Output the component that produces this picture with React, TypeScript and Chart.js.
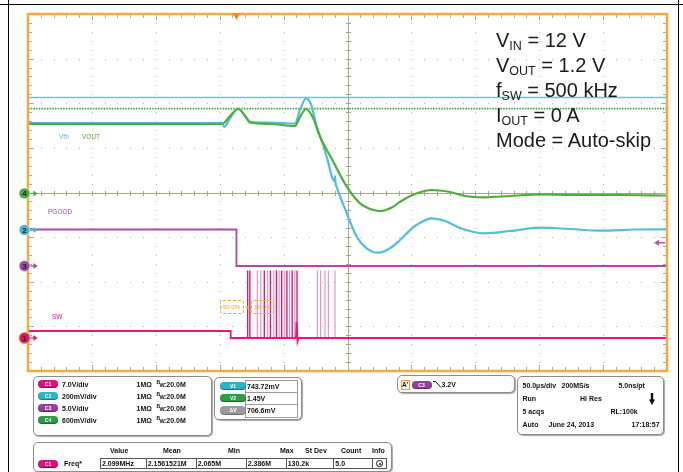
import React, { useEffect, useRef } from "react";
import { Chart, registerables } from "chart.js";

Chart.register(...registerables);

// Horizontal: time in µs from the left screen edge (50 µs/div, 10 div).
// Vertical: screen divisions (8 div, centre line = 0).
const vfbTime = [0, 151.8, 153.4, 158.1, 164.3, 169.8, 173.7, 189.4, 208.9, 212.8, 217.5, 221.4, 225.9, 230.0, 233.7, 239.8, 240.2, 240.6, 241.5, 249.4, 257.2, 265.0, 274.1, 283.3, 291.1, 302.8, 315.9, 326.3, 338.0, 356.8, 377.2, 401.4, 424.1, 449.1, 475.0, 500];
const vfbLevel = [1.557, 1.557, 1.468, 1.67, 1.882, 1.714, 1.58, 1.569, 1.546, 1.849, 2.106, 1.983, 1.475, 1.154, 0.802, 0.26, 0.36, 0.22, 0.13, -0.466, -0.99, -1.25, -1.349, -1.25, -1.064, -0.751, -0.578, -0.639, -0.796, -0.914, -0.863, -0.789, -0.818, -0.856, -0.829, -0.825];

const voutTime = [0, 151.8, 158.1, 164.3, 170.6, 173.7, 189.4, 208.9, 212.8, 217.5, 223.2, 228.5, 238.2, 249.4, 259.8, 270.2, 275.4, 285.8, 291.1, 302.8, 315.9, 330.2, 341.9, 356.8, 377.2, 401.4, 431.9, 463.2, 500];
const voutLevel = [1.535, 1.535, 1.714, 1.871, 1.692, 1.569, 1.535, 1.49, 1.692, 1.871, 1.663, 1.25, 0.728, 0.13, -0.242, -0.392, -0.415, -0.318, -0.206, -0.034, 0.056, 0.011, -0.078, -0.108, -0.078, -0.04, -0.056, -0.056, -0.067];

const pgoodTime = [0, 163.1, 163.1, 500];
const pgoodLevel = [-0.829, -0.829, -1.647, -1.647];

const swTime = [0, 158.6, 158.6, 209.7, 210.1, 210.9, 211.7, 500];
const swLevel = [-3.104, -3.104, -3.261, -3.261, -2.9, -3.34, -3.261, -3.261];
const swPulseDark = [171.9, 173.6, 184.9, 189.7, 194.4, 198.5, 202.6, 206.7, 210.5];
const swPulseLight = [179.4, 182.2, 187.6, 192.4, 196.5, 200.5, 204.7, 208.8, 226.4, 229.0, 232.4, 235.0, 240.2];
const swPulseHigh = -1.748;
const swPulseLow = -3.261;

const cursorV1 = 2.129;
const cursorV2 = 1.878;
const triggerTime = 163.1;
const triggerLevel = -1.125;

const markerChannels = ["4", "2", "3", "1"];
const markerLevels = [-0.02, -0.84, -1.647, -3.261];
const markerColors = ["#49a847", "#4cb6cf", "#9b4c9d", "#e2176c"];

const channelLabels = ["C1", "C2", "C3", "C4"];
const channelScales = ["7.0V/div", "200mV/div", "5.0V/div", "600mV/div"];
const channelColors = ["#d3177a", "#2db2c6", "#9a3d9e", "#2c9c45"];
const cursorLabels = ["V1", "V2", "ΔV"];
const cursorValues = ["743.72mV", "1.45V", "706.6mV"];
const cursorColors = ["#2bb4c6", "#2e9e46", "#9c9c9c"];
const measHeaders = ["Value", "Mean", "Min", "Max", "St Dev", "Count", "Info"];
const measHeaderX = [110, 163, 228, 280, 305, 341, 372];
const measValues = ["2.099MHz", "2.1561521M", "2.065M", "2.386M", "130.2k", "5.0"];
const measCellX = [100, 145.7, 195.7, 245.7, 285.7, 333.3, 372.3, 386];

const annotationLines: [string, string, string][] = [
  ["V", "IN", " = 12 V"],
  ["V", "OUT", " = 1.2 V"],
  ["f", "SW", " = 500 kHz"],
  ["I", "OUT", " = 0 A"],
  ["Mode = Auto-skip", "", ""],
];

const FF = '"Liberation Sans", Arial, Helvetica, sans-serif';

const pts = (t: number[], v: number[]) => t.map((x, i) => ({ x, y: v[i] }));
const pulses = (times: number[]) =>
  times.flatMap((t) => [
    { x: t, y: swPulseLow },
    { x: t, y: swPulseHigh },
    { x: t, y: null as any },
  ]);

const scopePlugin = {
  id: "scopeScreen",
  beforeDatasetsDraw(chart: any) {
    const { ctx, chartArea: a } = chart;
    const W = a.right - a.left;
    const H = a.bottom - a.top;
    const dx = W / 10;
    const dy = H / 8;
    const cx = a.left + W / 2;
    const cy = a.top + H / 2;
    ctx.save();
    ctx.fillStyle = "#b8b8b8";
    for (let i = 1; i < 10; i++) {
      if (i === 5) continue;
      const x = Math.round(a.left + i * dx);
      for (let k = 1; k < 40; k++) ctx.fillRect(x, Math.round(a.top + (k * dy) / 5), 1, 1);
    }
    for (let j = 1; j < 8; j++) {
      if (j === 4) continue;
      const y = Math.round(a.top + j * dy);
      for (let k = 1; k < 50; k++) ctx.fillRect(Math.round(a.left + (k * dx) / 5), y, 1, 1);
    }
    ctx.strokeStyle = "#a9a38f";
    ctx.lineWidth = 1;
    const xc = Math.round(cx) + 0.5;
    const yc = Math.round(cy) + 0.5;
    ctx.beginPath();
    ctx.moveTo(a.left, yc);
    ctx.lineTo(a.right, yc);
    ctx.moveTo(xc, a.top);
    ctx.lineTo(xc, a.bottom);
    for (let k = 1; k < 50; k++) {
      const x = Math.round(a.left + (k * dx) / 5) + 0.5;
      ctx.moveTo(x, yc - 2.5);
      ctx.lineTo(x, yc + 2.5);
    }
    for (let k = 1; k < 40; k++) {
      const y = Math.round(a.top + (k * dy) / 5) + 0.5;
      ctx.moveTo(xc - 2.5, y);
      ctx.lineTo(xc + 2.5, y);
    }
    ctx.stroke();
    ctx.strokeStyle = "#ababab";
    ctx.beginPath();
    for (let k = 1; k < 50; k++) {
      const x = Math.round(a.left + (k * dx) / 5) + 0.5;
      const len = k % 5 === 0 ? 6 : 4;
      ctx.moveTo(x, a.top);
      ctx.lineTo(x, a.top + len);
      ctx.moveTo(x, a.bottom);
      ctx.lineTo(x, a.bottom - len);
    }
    for (let k = 1; k < 40; k++) {
      const y = Math.round(a.top + (k * dy) / 5) + 0.5;
      const len = k % 5 === 0 ? 6 : 4;
      ctx.moveTo(a.left, y);
      ctx.lineTo(a.left + len, y);
      ctx.moveTo(a.right, y);
      ctx.lineTo(a.right - len, y);
    }
    ctx.stroke();
    ctx.restore();
  },
  afterDatasetsDraw(chart: any) {
    const { ctx, chartArea: a, scales } = chart;
    const xs = scales.x;
    const ys = scales.y;
    ctx.save();
    ctx.strokeStyle = "#f3ab3e";
    ctx.lineWidth = 2.5;
    ctx.strokeRect(a.left, a.top, a.right - a.left, a.bottom - a.top);
    const tx = xs.getPixelForValue(triggerTime);
    ctx.fillStyle = "#f08a22";
    ctx.beginPath();
    ctx.moveTo(tx - 4, a.top - 1);
    ctx.lineTo(tx + 4, a.top - 1);
    ctx.lineTo(tx, a.top + 6);
    ctx.closePath();
    ctx.fill();
    const ty = ys.getPixelForValue(triggerLevel);
    ctx.strokeStyle = "#c650a8";
    ctx.fillStyle = "#c650a8";
    ctx.lineWidth = 1.5;
    ctx.beginPath();
    ctx.moveTo(a.right - 2, ty);
    ctx.lineTo(a.right - 9, ty);
    ctx.stroke();
    ctx.beginPath();
    ctx.moveTo(a.right - 13, ty);
    ctx.lineTo(a.right - 8, ty - 3);
    ctx.lineTo(a.right - 8, ty + 3);
    ctx.closePath();
    ctx.fill();
    markerChannels.forEach((n, i) => {
      const y = ys.getPixelForValue(markerLevels[i]);
      const col = markerColors[i];
      const mx = a.left - 3.5;
      ctx.strokeStyle = col;
      ctx.fillStyle = col;
      ctx.lineWidth = 1.2;
      ctx.beginPath();
      ctx.moveTo(mx + 5, y);
      ctx.lineTo(mx + 11, y);
      ctx.stroke();
      ctx.beginPath();
      ctx.moveTo(mx + 13, y);
      ctx.lineTo(mx + 9, y - 3);
      ctx.lineTo(mx + 9, y + 3);
      ctx.closePath();
      ctx.fill();
      ctx.beginPath();
      ctx.arc(mx, y, 5.5, 0, Math.PI * 2);
      ctx.fill();
      ctx.strokeStyle = i === 3 ? "#f4a040" : "rgba(255,255,255,0.6)";
      ctx.lineWidth = 1;
      ctx.stroke();
      ctx.fillStyle = "#1d1d1d";
      ctx.font = 'bold 8px "Liberation Sans", Arial, sans-serif';
      ctx.textAlign = "center";
      ctx.textBaseline = "middle";
      ctx.fillText(n, mx, y + 0.5);
    });
    ctx.restore();
  },
};

function T(props: { x: number; y: number; s?: number; c?: string; w?: number; center?: boolean; children: any }) {
  const s = props.s ?? 7;
  const L = Math.round(s * 1.3);
  return (
    <span
      style={{
        position: "absolute",
        left: props.x,
        top: props.y - L / 2,
        fontSize: s,
        lineHeight: L + "px",
        color: props.c ?? "#111",
        fontWeight: props.w ?? 700,
        fontFamily: FF,
        whiteSpace: "nowrap",
        transform: props.center ? "translateX(-50%)" : undefined,
      }}
    >
      {props.children}
    </span>
  );
}

function Pill(props: { x: number; y: number; w?: number; h?: number; color: string; label: string }) {
  const w = props.w ?? 20;
  const h = props.h ?? 8;
  return (
    <div
      style={{
        position: "absolute",
        left: props.x,
        top: props.y - h / 2,
        width: w,
        height: h,
        borderRadius: h / 2,
        background: props.color,
        boxShadow: "inset 0 -1px 1px rgba(0,0,0,0.35)",
        color: "#fff",
        fontSize: 5,
        lineHeight: h + "px",
        textAlign: "center",
        fontWeight: 700,
        fontFamily: FF,
      }}
    >
      {props.label}
    </div>
  );
}

function Box(props: { x: number; y: number; w: number; h: number }) {
  return (
    <div
      style={{
        position: "absolute",
        left: props.x,
        top: props.y,
        width: props.w,
        height: props.h,
        boxSizing: "border-box",
        border: "1px solid #8c8c8c",
        borderRadius: 5,
        boxShadow: "1px 1px 1px rgba(0,0,0,0.35)",
        background: "#fff",
      }}
    />
  );
}

function Cell(props: { x: number; y: number; w: number; h: number; color?: string }) {
  return (
    <div
      style={{
        position: "absolute",
        left: props.x,
        top: props.y,
        width: props.w,
        height: props.h,
        boxSizing: "border-box",
        border: `1px solid ${props.color ?? "#555"}`,
        background: "#fff",
      }}
    />
  );
}

export default function App() {
  const ref = useRef<HTMLCanvasElement>(null);

  useEffect(() => {
    const canvas = ref.current!;
    const chart = new Chart(canvas, {
      type: "line",
      data: {
        datasets: [
          { label: "VOUT", data: pts(voutTime, voutLevel), borderColor: "#4caf3a", borderWidth: 2.2, cubicInterpolationMode: "monotone" },
          { label: "Vfb", data: pts(vfbTime, vfbLevel), borderColor: "#52bfd8", borderWidth: 2.2, cubicInterpolationMode: "monotone" },
          { label: "Cursor V1", data: pts([0, 500], [cursorV1, cursorV1]), borderColor: "#62c6df", borderWidth: 1.3 },
          { label: "Cursor V2", data: pts([0, 500], [cursorV2, cursorV2]), borderColor: "#3aa53a", borderWidth: 1.8, borderDash: [1.5, 1.2] },
          { label: "PGOOD", data: pts(pgoodTime, pgoodLevel), borderColor: "#ad4aa3", borderWidth: 1.8 },
          { label: "SW", data: pts(swTime, swLevel), borderColor: "#e4187b", borderWidth: 1.8 },
          { label: "SW pulses", data: pulses(swPulseDark), borderColor: "#cc176f", borderWidth: 1.3, spanGaps: false },
          { label: "SW pulses light", data: pulses(swPulseLight), borderColor: "#e67fb3", borderWidth: 1, spanGaps: false },
        ] as any,
      },
      options: {
        responsive: false,
        animation: false,
        events: [],
        layout: { padding: { left: 28, right: 16, top: 14, bottom: 101 } },
        scales: {
          x: { type: "linear", min: 0, max: 500, display: false },
          y: { type: "linear", min: -4, max: 4, display: false },
        },
        elements: { point: { radius: 0 }, line: { tension: 0 } },
        plugins: { legend: { display: false }, tooltip: { enabled: false } },
      } as any,
      plugins: [scopePlugin],
    });
    return () => chart.destroy();
  }, []);

  const rowY = [384, 396, 408, 420];

  return (
    <div
      style={{
        position: "absolute",
        left: 0,
        top: 0,
        width: 683,
        height: 472,
        overflow: "hidden",
        background: "#fff",
        fontFamily: FF,
      }}
    >
      <canvas ref={ref} width={683} height={472} style={{ position: "absolute", left: 0, top: 0, width: 683, height: 472 }} />

      <div style={{ position: "absolute", left: 0, top: 4, width: 683, height: 1, background: "#000" }} />
      <div style={{ position: "absolute", left: 8, top: 0, width: 1, height: 472, background: "#000" }} />
      <div style={{ position: "absolute", left: 678, top: 0, width: 1, height: 472, background: "#000" }} />

      <T x={59} y={137} s={6.5} w={400} c="#4fbcd6">Vfb</T>
      <T x={82} y={137} s={6.5} w={400} c="#4caf3a">VOUT</T>
      <T x={48} y={212} s={6.5} w={400} c="#ad4aa3">PGOOD</T>
      <T x={52} y={317} s={6.5} w={400} c="#e4187b">SW</T>

      <div style={{ position: "absolute", left: 219.5, top: 299.5, width: 24.5, height: 14, boxSizing: "border-box", border: "1px dashed #f2a640", borderRadius: 3 }} />
      <div style={{ position: "absolute", left: 251, top: 299.5, width: 23, height: 14, boxSizing: "border-box", border: "1px dashed #f2a640", borderRadius: 3 }} />
      <T x={221} y={306.5} s={6} w={400} c="#f0a030">-50.0%</T>
      <T x={245} y={306.5} s={6} w={400} c="#f0a030">◂</T>
      <T x={254.5} y={306.5} s={6} w={400} c="#f0a030">50.0%</T>

      {annotationLines.map((ln, i) => (
        <div
          key={i}
          style={{
            position: "absolute",
            left: 496,
            top: 46.5 + i * 25 - 16.93,
            fontSize: 20,
            lineHeight: "20px",
            color: "#1a1a1a",
            fontFamily: FF,
            whiteSpace: "nowrap",
          }}
        >
          {ln[0]}
          {ln[1] ? <span style={{ fontSize: 12.5, position: "relative", top: 3 }}>{ln[1]}</span> : null}
          {ln[2]}
        </div>
      ))}

      <Box x={33} y={376} w={179} h={60} />
      {channelLabels.map((c, i) => (
        <React.Fragment key={c}>
          <Pill x={38} y={rowY[i]} color={channelColors[i]} label={c} />
          <T x={62} y={rowY[i]}>{channelScales[i]}</T>
          <T x={136.5} y={rowY[i]}>1MΩ</T>
          <T x={156.5} y={rowY[i] - 1.5} s={5}>B</T>
          <T x={159.5} y={rowY[i] + 1} s={5.5}>W</T>
          <T x={164} y={rowY[i]}>:20.0M</T>
        </React.Fragment>
      ))}

      <Box x={214} y={376.5} w={88} h={43.5} />
      {cursorLabels.map((c, i) => (
        <React.Fragment key={c}>
          <Cell x={244.5} y={380 + i * 12.2} w={53.5} h={13.2} color="#9a9a9a" />
          <Pill x={220} y={386 + i * 12.2} w={26} h={8.5} color={cursorColors[i]} label={c} />
          <T x={247} y={386 + i * 12.2}>{cursorValues[i]}</T>
        </React.Fragment>
      ))}

      <Box x={396.5} y={375} w={118.5} h={18} />
      <div style={{ position: "absolute", left: 401, top: 379.5, width: 9, height: 10, boxSizing: "border-box", border: "1px solid #f0a030", background: "#fff6e6" }} />
      <T x={402} y={384.5} s={6.5}>A'</T>
      <Pill x={411.5} y={384.5} color="#9a3d9e" label="C3" />
      <svg style={{ position: "absolute", left: 433, top: 380 }} width={9} height={9}>
        <polyline points="0,1.5 2.5,1.5 8,7.5" fill="none" stroke="#111" strokeWidth={1} />
      </svg>
      <T x={441.5} y={384.5}>3.2V</T>

      <Box x={516.5} y={376} w={147.5} h={59} />
      <T x={522.5} y={385}>50.0µs/div</T>
      <T x={561.5} y={385}>200MS/s</T>
      <T x={618.5} y={385}>5.0ns/pt</T>
      <T x={522.5} y={398.3}>Run</T>
      <T x={580} y={398.3}>Hi Res</T>
      <svg style={{ position: "absolute", left: 649, top: 393 }} width={6} height={12}>
        <rect x={1.8} y={0} width={2.4} height={7.5} fill="#111" />
        <polygon points="0,6.5 6,6.5 3,12" fill="#111" />
      </svg>
      <T x={522.5} y={411.7}>5 acqs</T>
      <T x={610.5} y={411.7}>RL:100k</T>
      <T x={522.5} y={424.5}>Auto</T>
      <T x={548.5} y={424.5}>June 24, 2013</T>
      <T x={631.5} y={424.5}>17:18:57</T>

      <Box x={33} y={441.5} w={359} h={30} />
      {measHeaders.map((h, i) => (
        <T key={h} x={measHeaderX[i]} y={450.7}>{h}</T>
      ))}
      <Pill x={38} y={463.5} color="#d3177a" label="C1" />
      <T x={64} y={463.5}>Freq*</T>
      {measCellX.slice(0, -1).map((x, i) => (
        <Cell key={i} x={x} y={458} w={measCellX[i + 1] - x + 1} h={11} />
      ))}
      {measValues.map((v, i) => (
        <T key={i} x={measCellX[i] + 2} y={463.5}>{v}</T>
      ))}
      <div style={{ position: "absolute", left: 376, top: 460, width: 7, height: 7, boxSizing: "border-box", border: "1px solid #111", borderRadius: "50%" }} />
      <div style={{ position: "absolute", left: 378.5, top: 462.5, width: 2, height: 2, background: "#111", borderRadius: "50%" }} />
    </div>
  );
}
